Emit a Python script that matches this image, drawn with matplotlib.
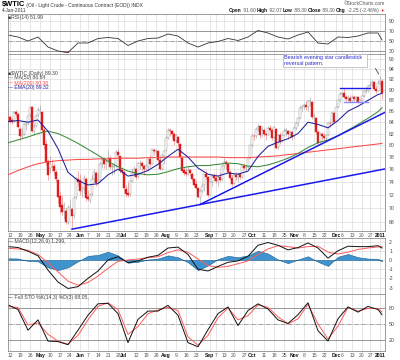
import numpy as np
import pandas as pd
import matplotlib
matplotlib.use("Agg")
import matplotlib.pyplot as plt
from matplotlib.ticker import NullLocator

plt.rcParams['font.family'] = ['Liberation Sans', 'DejaVu Sans']

# trading calendar of the chart: 9 Apr 2010 .. 4 Jan 2011
holidays = ['2010-05-31', '2010-07-05', '2010-09-06', '2010-11-25', '2010-12-24']

# daily candles ($WTIC)
opens = [85.0, 84.9, 84.4, 84.2, 85.8, 85.4, 82.8, 81.6, 82.0, 83.5,
         83.8, 85.3, 86.7, 82.5, 83.3, 85.3, 86.3, 85.8, 82.7, 80.2,
         77.4, 76.2, 76.3, 76.6, 75.5, 74.3, 71.8, 70.4, 69.5, 69.6,
         68.0, 70.1, 69.9, 68.9, 71.6, 74.5, 74.3, 72.5, 73.0, 74.5,
         71.6, 71.2, 72.1, 74.5, 75.4, 74.0, 74.3, 76.9, 77.7, 76.8,
         77.7, 77.9, 76.4, 76.3, 76.6, 78.8, 78.1, 75.9, 75.6, 72.9,
         72.2, 72.1, 74.1, 75.4, 76.0, 74.9, 77.0, 77.0, 76.5, 76.1,
         76.4, 77.7, 76.9, 79.2, 78.8, 79.0, 77.5, 76.1, 78.2, 79.2,
         81.3, 82.5, 82.5, 82.0, 80.8, 81.4, 80.2, 77.9, 75.8, 75.5,
         75.3, 75.8, 75.3, 74.4, 73.6, 73.0, 71.6, 72.6, 73.5, 75.2,
         74.7, 72.0, 73.9, 74.9, 74.6, 74.1, 74.7, 74.4, 76.5, 77.2,
         76.8, 75.6, 74.6, 73.8, 75.0, 74.8, 75.2, 74.8, 76.5, 76.2,
         76.3, 77.9, 80.0, 81.6, 81.5, 82.8, 83.3, 81.8, 82.6, 82.0,
         81.8, 83.0, 82.7, 81.4, 82.8, 79.6, 81.8, 80.7, 81.8, 82.5,
         82.5, 81.9, 82.2, 81.5, 83.0, 83.9, 84.7, 86.5, 86.9, 87.1,
         86.7, 87.8, 87.7, 84.9, 84.8, 82.3, 80.5, 81.9, 81.5, 81.2,
         81.8, 83.9, 83.8, 85.6, 84.2, 86.8, 88.0, 89.2, 89.4, 88.7,
         88.3, 88.4, 87.8, 88.6, 88.3, 88.6, 87.7, 88.0, 88.8, 89.8,
         89.8, 90.8, 91.0, 91.5, 90.1, 89.8, 91.4, 91.6]
highs = [85.3, 85.3, 84.8, 86.0, 86.3, 85.6, 83.3, 82.9, 83.9, 84.3,
         85.3, 86.9, 86.9, 83.6, 85.4, 86.7, 87.2, 86.0, 83.4, 80.8,
         77.6, 78.2, 77.6, 77.0, 75.9, 74.5, 72.5, 72.0, 70.9, 70.0,
         70.5, 71.3, 70.0, 71.8, 74.7, 75.7, 75.2, 73.2, 75.0, 74.8,
         72.7, 72.2, 75.0, 76.0, 75.7, 75.4, 77.2, 77.9, 78.0, 77.6,
         79.1, 78.4, 77.0, 77.0, 79.1, 79.4, 78.2, 76.3, 75.8, 73.5,
         74.0, 74.3, 76.0, 76.5, 76.2, 77.2, 77.5, 77.4, 76.8, 77.0,
         77.8, 78.3, 79.4, 79.5, 79.4, 79.2, 78.2, 78.5, 79.1, 81.6,
         82.9, 82.9, 82.7, 82.2, 81.9, 81.5, 80.3, 78.1, 76.3, 76.2,
         76.6, 76.0, 75.6, 74.6, 74.3, 73.1, 72.9, 73.8, 75.3, 75.8,
         74.9, 74.2, 75.2, 75.4, 75.2, 75.0, 75.6, 76.6, 77.8, 77.5,
         77.0, 75.9, 75.0, 75.3, 75.6, 75.5, 75.4, 76.7, 77.0, 76.7,
         78.1, 80.1, 81.9, 82.0, 83.0, 83.7, 83.5, 83.1, 82.9, 82.2,
         83.4, 83.5, 83.0, 83.3, 82.9, 82.0, 82.2, 81.9, 83.0, 82.9,
         82.6, 82.6, 82.4, 83.3, 84.0, 85.0, 87.0, 87.2, 87.5, 87.8,
         88.0, 88.6, 87.8, 85.6, 85.0, 82.6, 82.2, 82.3, 82.1, 82.0,
         84.0, 84.2, 86.0, 86.0, 86.9, 88.3, 89.5, 89.6, 90.4, 89.0,
         89.0, 89.1, 89.1, 89.0, 88.9, 88.7, 88.3, 89.0, 89.9, 90.5,
         91.0, 91.6, 91.8, 91.7, 90.8, 91.8, 92.6, 92.07]
lows = [84.2, 83.9, 83.6, 84.0, 85.0, 82.9, 80.9, 81.2, 81.8, 82.6,
        83.5, 84.9, 82.3, 81.7, 83.1, 84.9, 85.6, 82.3, 79.4, 76.7,
        74.3, 75.4, 75.7, 75.0, 73.9, 70.8, 69.2, 68.9, 68.3, 67.6,
        67.6, 69.8, 67.0, 68.5, 71.3, 73.4, 71.9, 71.6, 72.3, 71.1,
        71.0, 70.8, 71.8, 74.0, 73.4, 73.6, 73.9, 76.2, 76.2, 76.0,
        77.2, 76.1, 75.0, 75.3, 76.4, 77.8, 75.4, 75.2, 72.4, 71.7,
        71.6, 71.8, 73.9, 74.9, 74.4, 74.6, 76.1, 75.7, 75.1, 75.8,
        75.7, 76.4, 76.8, 78.3, 78.2, 77.0, 75.8, 75.9, 76.9, 79.0,
        81.0, 81.5, 81.2, 80.1, 80.6, 79.6, 77.9, 75.5, 75.0, 74.9,
        75.1, 74.9, 74.1, 73.2, 72.9, 71.5, 70.6, 72.3, 72.6, 74.4,
        71.6, 71.9, 73.4, 74.1, 73.8, 73.4, 74.0, 74.2, 76.2, 76.1,
        75.4, 74.3, 73.4, 73.6, 74.3, 73.9, 74.4, 74.6, 75.9, 75.6,
        76.0, 77.6, 79.7, 80.9, 81.2, 82.5, 81.3, 81.4, 81.6, 80.9,
        81.7, 82.3, 80.9, 81.2, 79.4, 79.4, 80.2, 80.5, 81.6, 81.6,
        81.0, 81.2, 80.9, 81.3, 82.7, 83.4, 84.6, 86.0, 86.4, 86.2,
        86.0, 87.0, 84.6, 84.3, 81.9, 80.1, 80.3, 80.8, 80.8, 80.6,
        81.6, 83.1, 83.6, 83.9, 84.1, 86.6, 87.7, 88.7, 88.5, 87.8,
        87.9, 87.6, 87.6, 87.7, 87.6, 87.5, 87.5, 87.9, 88.6, 89.3,
        89.5, 90.3, 90.6, 89.9, 89.4, 89.7, 91.0, 88.3]
closes = [84.9, 84.3, 84.1, 85.8, 85.5, 83.2, 81.5, 81.7, 83.7, 83.7,
          85.1, 86.8, 82.4, 83.2, 85.2, 86.2, 86.2, 82.7, 80.0, 77.1,
          75.1, 76.8, 76.4, 75.7, 74.4, 71.6, 70.1, 69.4, 69.9, 68.0,
          70.0, 70.2, 68.8, 71.5, 74.6, 74.0, 72.6, 72.9, 74.6, 71.5,
          71.4, 72.0, 74.4, 75.5, 73.8, 74.1, 76.9, 77.7, 76.8, 77.2,
          77.8, 76.4, 76.4, 76.5, 78.9, 78.3, 75.9, 75.6, 73.0, 72.1,
          72.0, 74.1, 75.4, 76.1, 74.8, 77.0, 77.0, 76.6, 76.0, 76.5,
          77.6, 76.8, 79.3, 79.0, 79.0, 77.5, 76.0, 78.4, 79.0, 81.3,
          82.6, 82.5, 82.0, 80.7, 81.5, 80.3, 78.0, 75.7, 75.4, 75.2,
          75.8, 75.4, 74.4, 73.5, 73.1, 71.6, 72.5, 73.4, 75.2, 74.7,
          71.9, 73.9, 74.9, 74.6, 74.1, 74.7, 74.3, 76.5, 77.2, 76.8,
          75.6, 74.6, 73.7, 75.0, 74.7, 75.2, 74.7, 76.5, 76.2, 76.2,
          77.9, 80.0, 81.6, 81.5, 82.8, 83.2, 81.7, 82.7, 82.0, 81.7,
          83.0, 82.7, 81.3, 83.1, 79.5, 81.8, 80.6, 81.7, 82.5, 82.6,
          81.9, 82.2, 81.4, 83.0, 83.9, 84.7, 86.5, 86.9, 87.1, 86.7,
          87.8, 87.8, 84.9, 84.9, 82.3, 80.4, 81.9, 81.5, 81.3, 81.7,
          83.9, 83.8, 85.7, 84.1, 86.8, 88.0, 89.2, 89.4, 88.7, 88.3,
          88.4, 87.8, 88.6, 88.3, 88.6, 87.7, 88.0, 88.8, 89.8, 89.8,
          90.8, 91.0, 91.5, 90.1, 89.8, 91.4, 91.6, 89.3]

# indicator lines, read once a week (bar numbers below)
line_idx = list(range(0, 186, 5)) + [187]
ema20 = [84.1, 84.3, 84.0, 84.4, 82.4, 79.4, 75.5, 74.2, 73.5, 73.7, 75.1, 76.0, 74.9,
         75.2, 75.8, 76.8, 78.1, 79.3, 78.0, 76.2, 75.2, 74.9, 75.4, 75.2, 75.7, 78.1,
         79.8, 80.5, 81.1, 82.0, 84.0, 83.6, 83.0, 84.3, 86.0, 86.9, 88.0, 89.1, 89.32]
sma50 = [80.4, 80.9, 81.4, 82.0, 82.4, 82.0, 81.2, 80.3, 79.3, 78.3, 77.3, 76.4, 75.7,
         75.3, 75.1, 75.2, 75.6, 76.1, 76.4, 76.6, 76.6, 76.8, 77.0, 76.9, 76.5, 76.4,
         76.7, 77.2, 77.8, 78.6, 79.6, 80.4, 80.9, 81.6, 82.6, 83.6, 84.7, 85.9, 86.64]
sma200 = [75.1, 75.8, 76.4, 76.9, 77.2, 77.4, 77.5, 77.6, 77.6, 77.7, 77.7, 77.8, 77.8,
          77.8, 77.9, 77.9, 78.0, 78.0, 78.0, 78.0, 78.0, 78.0, 77.9, 77.9, 77.9, 78.0,
          78.1, 78.2, 78.4, 78.6, 78.8, 79.0, 79.2, 79.4, 79.6, 79.8, 80.0, 80.2, 80.30]
rsi = [62, 58, 50, 58, 38, 30, 27, 46, 46, 55, 57, 55, 41, 50, 55, 56, 64, 60, 46, 38,
       46, 49, 55, 51, 58, 71, 66, 58, 54, 62, 68, 46, 44, 58, 57, 60, 66, 66, 51.99]
macd = [1.45, 1.36, 0.95, 0.45, -1.1, -2.4, -3.1, -2.9, -2.0, -1.2, 0.0, 0.35, -0.3,
        -0.1, 0.3, 0.5, 1.3, 1.4, 0.6, -1.0, -1.2, -0.7, -0.25, -0.1, 0.4, 1.6, 1.9,
        1.6, 1.1, 1.35, 1.85, 1.3, 0.2, 1.0, 1.5, 1.45, 1.45, 1.55, 1.299]
signal = [1.27, 1.2, 1.05, 0.6, -0.3, -1.3, -2.3, -2.75, -2.45, -1.75, -0.9, -0.15, 0.0,
          0.1, 0.25, 0.35, 0.8, 1.1, 0.85, 0.1, -0.6, -0.8, -0.7, -0.4, -0.1, 0.6, 1.2,
          1.55, 1.45, 1.3, 1.45, 1.5, 0.85, 0.65, 0.85, 1.15, 1.3, 1.42, 1.455]
sto_k = [87, 78, 38, 58, 17, 16, 10, 38, 67, 89, 90, 70, 14, 59, 75, 75, 86, 67, 14, 6,
         39, 70, 83, 47, 76, 89, 79, 58, 51, 68, 91, 37, 17, 60, 83, 73, 84, 78, 68.05]
sto_d = [84, 82, 48, 52, 30, 17, 11, 28, 58, 84, 91, 78, 30, 45, 70, 77, 82, 76, 25, 9,
         28, 62, 81, 58, 66, 87, 82, 64, 50, 60, 88, 50, 21, 46, 82, 75, 80, 80, 73.34]

# drawn trend lines: (bar, price) -> (bar, price), extended to the right edge
trend_lines = [(32, 66.9, 96, 70.5), (96, 70.5, 155, 79.9)]
resistance = (166, 181, 90.4)
support = (168, 180, 87.6)

tick_dates = ['2010-04-12', '2010-04-19', '2010-04-26', '2010-05-03', '2010-05-10',
              '2010-05-17', '2010-05-24', '2010-06-01', '2010-06-07', '2010-06-14',
              '2010-06-21', '2010-06-28', '2010-07-01', '2010-07-12', '2010-07-19',
              '2010-07-26', '2010-08-02', '2010-08-09', '2010-08-16', '2010-08-23',
              '2010-09-01', '2010-09-07', '2010-09-13', '2010-09-20', '2010-09-27',
              '2010-10-01', '2010-10-11', '2010-10-18', '2010-10-25', '2010-11-01',
              '2010-11-08', '2010-11-15', '2010-11-22', '2010-12-01', '2010-12-06',
              '2010-12-13', '2010-12-20', '2010-12-27', '2011-01-03']
tick_labels = ['12', '19', '26', 'May', '10', '17', '24', 'Jun', '7', '14', '21', '28',
               'Jul', '12', '19', '26', 'Aug', '9', '16', '23', 'Sep', '7', '13', '20',
               '27', 'Oct', '11', '18', '25', 'Nov', '8', '15', '22', 'Dec', '6', '13',
               '20', '27', '2011']

# ---------------------------------------------------------------
days = pd.bdate_range('2010-04-09', '2011-01-04')
days = days[~days.isin(pd.to_datetime(holidays))]
x = np.arange(len(days))
tick_pos = [days.get_loc(pd.Timestamp(d)) for d in tick_dates]

W, H = 400, 360
fig = plt.figure(figsize=(W / 100, H / 100), dpi=100)


def rect(top, bottom):
    return [7.5 / W, 1 - bottom / H, 377.5 / W, (bottom - top) / H]


ax_rsi = fig.add_axes(rect(14, 54))
ax = fig.add_axes(rect(54, 231))
ax_macd = fig.add_axes(rect(238, 294))
ax_sto = fig.add_axes(rect(294, 351))

GRID = '#dcdcdc'


def style(a, yticks, show_dates):
    a.set_xlim(-0.25, 188.5)
    a.set_yticks(yticks)
    a.set_yticklabels([str(v) for v in yticks])
    a.yaxis.set_minor_locator(NullLocator())
    a.yaxis.tick_right()
    a.tick_params(axis='y', length=0, pad=3, labelsize=3.7, labelcolor='#444444')
    a.set_xticks(tick_pos)
    a.tick_params(axis='x', length=0, pad=1.2, labelsize=3.6, labelcolor='#555555',
                  labelbottom=show_dates)
    if show_dates:
        a.set_xticklabels(tick_labels)
        for t in a.get_xticklabels():
            if not t.get_text().isdigit() or t.get_text() == '2011':
                t.set_fontweight('bold')
                t.set_color('#111111')
    a.grid(True, color=GRID, lw=0.5)
    a.set_axisbelow(True)
    for s in a.spines.values():
        s.set_color('#8c8c8c')
        s.set_linewidth(0.6)


# ---- RSI ----
style(ax_rsi, [90, 70, 50, 30], False)
ax_rsi.set_ylim(24, 104)
ax_rsi.axhline(70, color='#8a8a8a', lw=0.6)
ax_rsi.axhline(30, color='#8a8a8a', lw=0.6)
ax_rsi.axhline(50, color='#8a8a8a', lw=0.5, ls='-.')
r = np.array(rsi, dtype=float)
ax_rsi.fill_between(line_idx, r, 30, where=r < 30, interpolate=True, color='#e03030', lw=0)
ax_rsi.plot(line_idx, r, color='#333333', lw=0.6)

# ---- price ----
ax.set_yscale('log')
style(ax, list(range(68, 97, 2)), True)
ax.set_ylim(66.64, 97.12)

o, h, l, c = (np.array(v) for v in (opens, highs, lows, closes))
prev = np.r_[o[0], c[:-1]]
edge = np.where(c < prev, '#e31a1c', '#8c8c8c')
face = np.where(c < o, edge, 'white')
ax.vlines(x, l, h, colors=list(np.where(c < prev, '#f07070', '#9a9a9a')), lw=0.4, zorder=3)
ax.bar(x, np.maximum(np.abs(c - o), 0.06), bottom=np.minimum(o, c), width=0.7,
       color=list(face), edgecolor=list(edge), lw=0.3, zorder=4)

ax.plot(line_idx, sma200, color='#ff4a4a', lw=0.75, zorder=5)
ax.plot(line_idx, sma50, color='#3a8a3a', lw=0.75, zorder=5)
ax.plot(line_idx, ema20, color='#20209a', lw=0.75, zorder=5)

for i0, p0, i1, p1 in trend_lines:
    k = (np.log(p1) - np.log(p0)) / (i1 - i0)
    xe = 188.5
    ax.plot([i0, xe], [p0, np.exp(np.log(p0) + k * (xe - i0))], color='#1a1aee',
            lw=1.1, zorder=6)
ax.plot(resistance[:2], [resistance[2]] * 2, color='#1a1aee', lw=1.0, zorder=6)
ax.plot(support[:2], [support[2]] * 2, color='#8c8cff', lw=1.0, zorder=6)

ax.text(0.733, 0.993, 'Bearish evening star candlestick  \nreversal pattern.',
        transform=ax.transAxes, va='top', ha='left', fontsize=3.9, color='#2a2ad0',
        linespacing=1.15, zorder=8,
        bbox=dict(boxstyle='square,pad=0.3', fc='white', ec='#b0b0b0', lw=0.5))
ax.annotate('', xy=(186, highs[186]), xytext=(0.971, 0.932), textcoords='axes fraction',
            arrowprops=dict(arrowstyle='-', color='#444444', lw=0.6), zorder=8)

# ---- MACD ----
style(ax_macd, [2, 1, 0, -1, -2, -3], False)
ax_macd.set_ylim(-3.70, 2.39)
hist = np.array(macd) - np.array(signal)
ax_macd.fill_between(line_idx, 0, hist, color='#3f94cf', edgecolor='#1d5f8f', lw=0.4)
ax_macd.plot(line_idx, signal, color='#ff5a5a', lw=0.7)
ax_macd.plot(line_idx, macd, color='#111111', lw=0.7)

# ---- Full STO ----
style(ax_sto, [80, 50, 20], True)
ax_sto.set_ylim(-2.2, 108)
ax_sto.axhline(80, color='#8a8a8a', lw=0.6)
ax_sto.axhline(20, color='#8a8a8a', lw=0.6)
ax_sto.axhline(50, color='#8a8a8a', lw=0.5, ls='-.')
ax_sto.plot(line_idx, sto_d, color='#ff5a5a', lw=0.7)
ax_sto.plot(line_idx, sto_k, color='#111111', lw=0.7)


# ---- texts ----
def ftext(px, py, s, **kw):
    kw.setdefault('fontsize', 3.7)
    kw.setdefault('color', '#333333')
    return fig.text(px / W, 1 - py / H, s, va='center', **kw)


def chain(prev, s, **kw):
    kw.setdefault('fontsize', 3.7)
    kw.setdefault('color', '#333333')
    return ax.annotate(s, xy=(1, 0), xycoords=prev, va='bottom', ha='left',
                       annotation_clip=False, **kw)


t = ftext(2, 4.5, '$WTIC', fontsize=5.4, fontweight='bold', color='#000000')
chain(t, ' (Oil - Light Crude - Continuous Contract (EOD)) INDX', fontsize=3.5)
ftext(2, 11, '4-Jan-2011', fontsize=3.5)
ftext(385, 3.5, '\u00a9StockCharts.com', fontsize=3.5, ha='right', color='#555555')

t = ftext(229, 10.5, 'Open', fontweight='bold', color='#111111', fontsize=3.5)
for s, bold in [(' 91.60 ', False), ('High', True), (' 92.07 ', False), ('Low', True),
                (' 88.30 ', False), ('Close', True), (' 89.30 ', False), ('Chg', True),
                (' -2.25 (-2.46%) ', False)]:
    t = chain(t, s, fontweight='bold' if bold else 'normal', fontsize=3.5,
              color='#111111' if bold else '#555555')
chain(t, '\u25bc', fontsize=2.6, color='#e00000')

ftext(8, 17, '\u25a0RSI(14) 51.99', color='#444444')

ftext(8, 73, '\u25a0$WTIC (Daily) 89.30', color='#444444')
t = ftext(8, 78, '\u2014', color='#3a8a3a')
chain(t, ' MA(50) 86.64', color='#444444')
t = ftext(8, 83, '\u2014', color='#ff4a4a')
chain(t, ' MA(200) 80.30', color='#ff4a4a')
t = ftext(8, 88, '\u2014', color='#20209a')
chain(t, ' EMA(20) 89.32', color='#20209a')

t = ftext(8, 241.5, '\u2014 MACD(12,26,9) 1.299, ', color='#444444')
t = chain(t, '1.455', color='#ff4040')
t = chain(t, ', ', color='#444444')
chain(t, '-0.156', color='#4a90c8')

t = ftext(8, 298, '\u2014 Full STO %K(14,3) %D(3) 68.05, ', color='#444444')
chain(t, '73.34', color='#ff4040')

fig.savefig('out.png', dpi=100)
